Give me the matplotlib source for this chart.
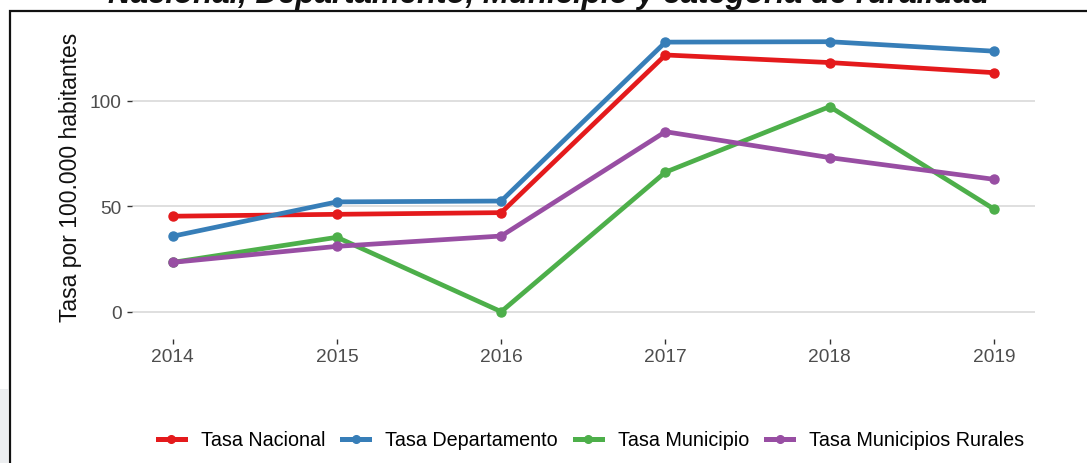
import matplotlib
matplotlib.use("Agg")
import matplotlib.pyplot as plt
from matplotlib.patches import Rectangle
from matplotlib.lines import Line2D

plt.rcParams['font.family'] = ['Liberation Sans', 'DejaVu Sans']

years = [2014, 2015, 2016, 2017, 2018, 2019]
tasa_nacional = [45.3, 46.2, 47.0, 121.8, 118.2, 113.4]
tasa_departamento = [35.8, 52.1, 52.5, 127.9, 128.1, 123.6]
tasa_municipio = [23.4, 35.3, 0.0, 66.2, 97.3, 48.7]
tasa_rurales = [23.4, 31.0, 35.9, 85.4, 73.1, 62.8]

series_names = ["Tasa Nacional", "Tasa Departamento", "Tasa Municipio",
                "Tasa Municipios Rurales"]
series_values = [tasa_nacional, tasa_departamento, tasa_municipio, tasa_rurales]
colors = ["#E41A1C", "#377EB8", "#4DAF4A", "#984EA3"]

yticks = [0, 50, 100]
title = "Nacional, Departamento, Municipio y categoría de ruralidad"
ylabel = "Tasa por 100.000 habitantes"

W, H = 1087, 464
fig = plt.figure(figsize=(W / 100, H / 100), dpi=100)

# left grey strip
fig.patches.append(Rectangle((0, 0), 8 / W, (H - 390) / H, transform=fig.transFigure,
                             facecolor="#eceef0", edgecolor="none", zorder=0))
# outer frame (extends beyond right/bottom edges)
fig.patches.append(Rectangle((9.5 / W, -0.1), 1.2, 1.1 - 12 / H, transform=fig.transFigure,
                             facecolor="none", edgecolor="#111111", lw=1.6, zorder=1))

ax = fig.add_axes([132 / W, (H - 340) / H, (1035 - 132) / W, (340 - 29) / H])
ax.set_facecolor("none")

for name, vals, c in zip(series_names, series_values, colors):
    ax.plot(years, vals, color=c, lw=3.4, marker="o", ms=6.5, label=name,
            solid_capstyle="butt", zorder=3)

ax.set_xlim(2014 - 0.248, 2019 + 0.25)
ax.set_ylim(-12.96, 134.6)
ax.set_xticks(years)
ax.set_xticklabels([str(y) for y in years])
ax.set_yticks(yticks)
for s in ax.spines.values():
    s.set_visible(False)
ax.grid(axis="y", color="#d9d9d9", lw=1.2)
ax.grid(axis="x", visible=False)
ax.set_axisbelow(True)
ax.tick_params(axis="both", colors="#333333", labelcolor="#4d4d4d", labelsize=13.8,
               length=3.5, width=1.0, pad=3)
ax.tick_params(axis="y", pad=4)

ax.set_ylabel(ylabel, fontsize=16.5, color="#111111", va="center")
ax.yaxis.set_label_coords((71 - 132) / (1035 - 132), (340 - 177.5) / (340 - 29))

fig.text(549 / W, 1 - 3.5 / H, title, ha="center", va="baseline",
         fontsize=22.5, fontweight="bold", fontstyle="italic", color="#111111")

handles = [Line2D([], [], color=c, lw=3.6, marker="o", ms=5.5) for c in colors]
fig.legend(handles, series_names, loc="center", bbox_to_anchor=(591 / W, 1 - 441 / H),
           ncol=4, frameon=False, fontsize=14.2, handlelength=1.37, handletextpad=0.81,
           columnspacing=0.86, borderpad=0, borderaxespad=0)

fig.savefig("out.png", dpi=100)
